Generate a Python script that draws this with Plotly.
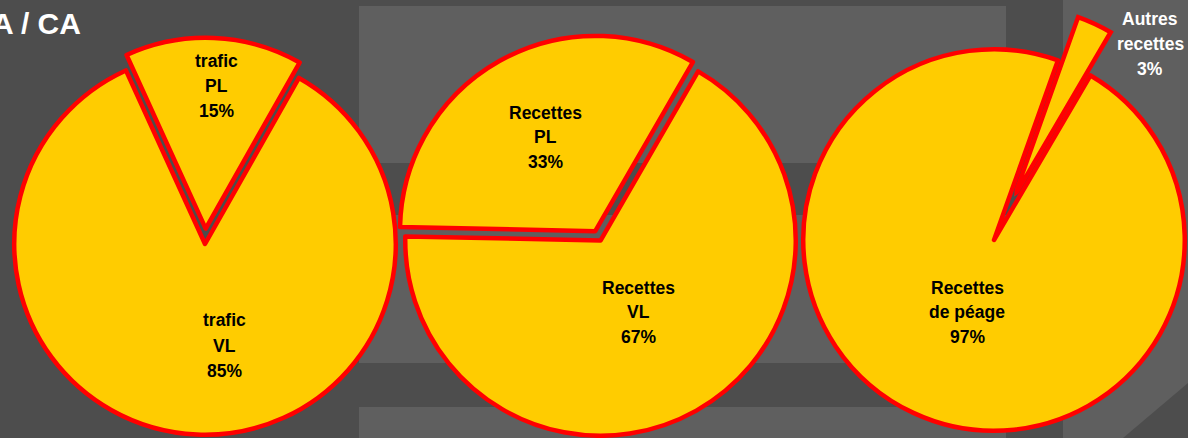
import math
import plotly.graph_objects as go

W, H = 1188, 438

# ---------------- data ----------------
title_text = "A / CA"

pie1_labels = ["trafic<br>PL", "trafic<br>VL"]
pie1_values = [15, 85]

pie2_labels = ["Recettes<br>VL", "Recettes<br>PL"]
pie2_values = [67, 33]

pie3_labels = ["Recettes<br>de péage", "Autres<br>recettes"]
pie3_values = [97, 3]

# ---------------- style ----------------
YELLOW = "#FFCC00"
RED = "#FF0000"
CLEAR = "rgba(0,0,0,0)"
BG_DARK = "#4D4D4D"
BG_LIGHT = "#5F5F5F"
LINE_W = 4.5
FONT = "Liberation Sans, Arial, sans-serif"
LABEL_SIZE = 17.5

# geometry of each pie (pixels), pulled slice and its pull (fraction of radius)
pie_layout = [
    dict(cx=205.0, cy=244.0, r=190.75, rotation=-24.5, pulled=0, pull=0.081),
    dict(cx=600.5, cy=240.5, r=195.25, rotation=30.0, pulled=1, pull=0.055),
    dict(cx=994.0, cy=240.0, r=190.75, rotation=30.4, pulled=1, pull=0.25),
]
# label placement: (center x, center y of middle line, line spacing, colour) per slice
label_layout = [
    [(216, 86, 25.5, "#000000"), (224, 345.5, 25.5, "#000000")],
    [(638, 312, 24.5, "#000000"), (545, 137.3, 24.5, "#000000")],
    [(967, 312, 24.5, "#000000"), (1150, 44, 25, "#FFFFFF")],
]

pies_data = [
    (pie1_labels, pie1_values),
    (pie2_labels, pie2_values),
    (pie3_labels, pie3_values),
]


def px_x(x):
    return x / W


def px_y(y):
    return 1 - y / H


def square_domain(cx, cy, r):
    return dict(x=[px_x(cx - r), px_x(cx + r)], y=[px_y(cy + r), px_y(cy - r)])


def mid_angle(values, k, rotation):
    total = sum(values)
    before = sum(values[:k])
    return rotation + (before + values[k] / 2) / total * 360.0


fig = go.Figure()
annotations = []

for i, ((labels, values), geo) in enumerate(zip(pies_data, pie_layout)):
    k = geo["pulled"]
    n = len(values)
    base_colors = [CLEAR if j == k else YELLOW for j in range(n)]
    base_lines = [CLEAR if j == k else RED for j in range(n)]
    base_w = [0 if j == k else LINE_W for j in range(n)]
    fig.add_trace(go.Pie(
        labels=labels, values=values, sort=False, direction="clockwise",
        rotation=geo["rotation"], textinfo="none", hoverinfo="skip",
        marker=dict(colors=base_colors, line=dict(color=base_lines, width=base_w)),
        domain=square_domain(geo["cx"], geo["cy"], geo["r"]), showlegend=False,
    ))
    a = math.radians(mid_angle(values, k, geo["rotation"]))
    off = geo["pull"] * geo["r"]
    pcx = geo["cx"] + off * math.sin(a)
    pcy = geo["cy"] - off * math.cos(a)
    if i < 2:
        pul_colors = [YELLOW if j == k else CLEAR for j in range(n)]
        pul_lines = [RED if j == k else CLEAR for j in range(n)]
        pul_w = [LINE_W if j == k else 0 for j in range(n)]
        fig.add_trace(go.Pie(
            labels=labels, values=values, sort=False, direction="clockwise",
            rotation=geo["rotation"], textinfo="none", hoverinfo="skip",
            marker=dict(colors=pul_colors, line=dict(color=pul_lines, width=pul_w)),
            domain=square_domain(pcx, pcy, geo["r"]), showlegend=False,
        ))
    else:
        # strongly pulled thin slice drawn on a polar sector so that it keeps full radius
        total = sum(values)
        width_deg = values[k] / total * 360.0
        rmax = 1.03
        R = geo["r"] * rmax
        sector = [35, 88]
        bx = max(math.cos(math.radians(sector[0])), math.cos(math.radians(sector[1])))
        by = max(math.sin(math.radians(sector[0])), math.sin(math.radians(sector[1])))
        fig.add_trace(go.Barpolar(
            r=[1], theta=[math.degrees(a)], width=[width_deg], subplot="polar",
            marker=dict(color=YELLOW, line=dict(color=RED, width=LINE_W)),
            hoverinfo="skip", showlegend=False,
        ))
        fig.update_layout(polar=dict(
            domain=dict(x=[px_x(pcx), px_x(pcx + bx * R)], y=[px_y(pcy), px_y(pcy - by * R)]),
            sector=sector, bgcolor=CLEAR, hole=0,
            radialaxis=dict(visible=False, range=[0, rmax]),
            angularaxis=dict(visible=False, direction="clockwise", rotation=90),
        ))

    total = sum(values)
    for j, (lab, v) in enumerate(zip(labels, values)):
        lines = lab.split("<br>") + [f"{round(v / total * 100)}%"]
        lx, ly, sp, col = label_layout[i][j]
        mid = (len(lines) - 1) / 2
        for m, t in enumerate(lines):
            annotations.append(dict(
                x=px_x(lx), y=px_y(ly + (m - mid) * sp), xref="paper", yref="paper",
                text=f"<b>{t}</b>", showarrow=False, xanchor="center", yanchor="middle",
                font=dict(family=FONT, size=LABEL_SIZE, color=col),
            ))

annotations.append(dict(
    x=px_x(83), y=px_y(23.5), xref="paper", yref="paper", text=f"<b>{title_text}</b>",
    showarrow=False, xanchor="right", yanchor="middle",
    font=dict(family=FONT, size=30, color="#FFFFFF"),
))


def rect(x0, y0, x1, y1):
    return dict(type="rect", xref="paper", yref="paper", x0=px_x(x0), x1=px_x(x1),
                y0=px_y(y1), y1=px_y(y0), fillcolor=BG_LIGHT, line=dict(width=0), layer="below")


shapes = [
    rect(359, 6, 1006, 163),
    rect(359, 215, 1006, 363),
    rect(359, 407, 1006, 438),
]
pts = [(1063, 0), (1188, 0), (1188, 383), (1123, 438), (1063, 438)]
path = "M " + " L ".join(f"{px_x(x)},{px_y(y)}" for x, y in pts) + " Z"
shapes.append(dict(type="path", xref="paper", yref="paper", path=path,
                   fillcolor=BG_LIGHT, line=dict(width=0), layer="below"))

fig.update_layout(
    width=W, height=H, margin=dict(l=0, r=0, t=0, b=0),
    paper_bgcolor=BG_DARK, plot_bgcolor=BG_DARK,
    showlegend=False, annotations=annotations, shapes=shapes,
)

fig.write_html(
    "out.html",
    config={"displayModeBar": False},
    post_script="document.body.style.margin='0';document.body.style.overflow='hidden';",
)
